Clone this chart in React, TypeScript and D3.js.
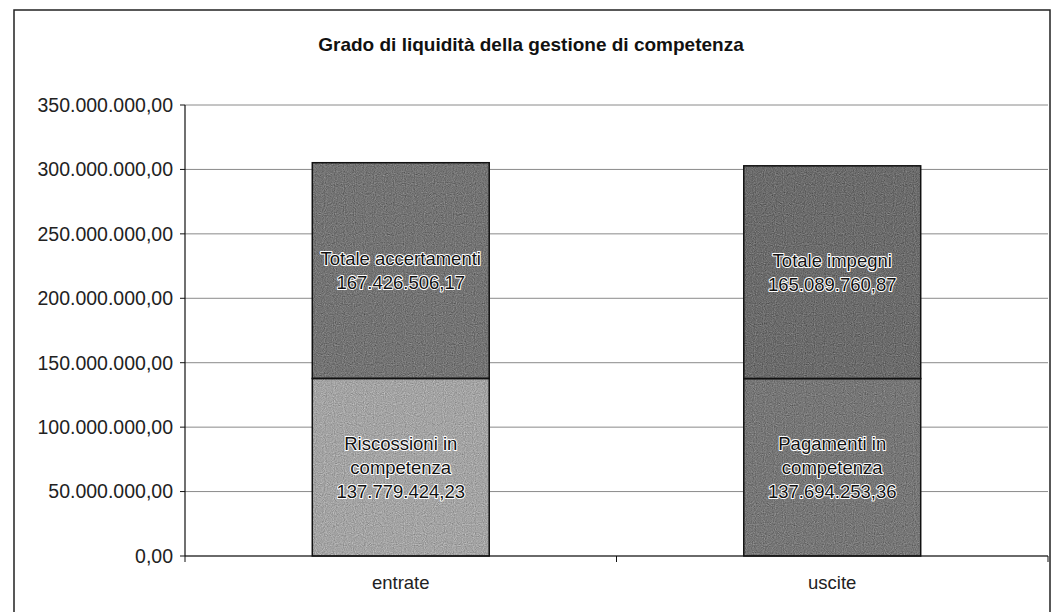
import React from "react";
import * as d3 from "d3";

const categories = ["entrate", "uscite"];
const bottomValues = [137779424.23, 137694253.36];
const topValues = [167426506.17, 165089760.87];
const bottomLabels = [["Riscossioni in", "competenza"], ["Pagamenti in", "competenza"]];
const topLabels = [["Totale accertamenti"], ["Totale impegni"]];
const yTicks = [0, 50000000, 100000000, 150000000, 200000000, 250000000, 300000000, 350000000];
const title = "Grado di liquidità della gestione di competenza";

const bottomFill = ["#a4a4a4", "#777777"];
const topFill = ["#747474", "#6c6c6c"];

const it = d3.formatLocale({ decimal: ",", thousands: ".", grouping: [3], currency: ["€", ""] });
const fmt = it.format(",.2f");

export default function App() {
  const W = 1052, H = 612;
  const left = 185, right = 1048, top = 105, bottom = 556;
  const x = d3.scaleBand().domain(categories).range([left, right]).paddingInner(0.59).paddingOuter(0.295);
  const y = d3.scaleLinear().domain([0, 350000000]).range([bottom, top]);
  const font = "'Liberation Sans', Arial, sans-serif";

  const halo = { paintOrder: "stroke", stroke: "#ffffff", strokeWidth: 2, strokeLinejoin: "round" } as any;

  return (
    <svg width={W} height={H} style={{ position: "absolute", left: 0, top: 0, background: "#fff" }} fontFamily={font}>
      <defs>
        <filter id="grain" x="0" y="0" width="100%" height="100%" colorInterpolationFilters="sRGB">
          <feTurbulence type="fractalNoise" baseFrequency="0.9" numOctaves="1" seed="3" result="noise" />
          <feColorMatrix in="noise" type="matrix" values="0.33 0.33 0.33 0 0  0.33 0.33 0.33 0 0  0.33 0.33 0.33 0 0  0 0 0 0 1" result="g" />
          <feComposite operator="arithmetic" in="SourceGraphic" in2="g" k1="0" k2="1" k3="0.6" k4="-0.3" />
        </filter>
      </defs>
      <rect x={0} y={0} width={W} height={H} fill="#fff" />
      {/* outer frame */}
      <path d={`M14,${H} L14,10 L1050,10 L1050,${H}`} fill="none" stroke="#222" strokeWidth={1.5} />
      <text x={531} y={51} textAnchor="middle" fontSize={19} fontWeight="bold" fill="#111">{title}</text>

      {/* gridlines */}
      {yTicks.map((t) => (
        <line key={"g" + t} x1={left} x2={right} y1={y(t)} y2={y(t)} stroke="#8a8a8a" strokeWidth={1} />
      ))}
      {/* y tick labels */}
      {yTicks.map((t) => (
        <g key={"t" + t}>
          <line x1={left - 5} x2={left} y1={y(t)} y2={y(t)} stroke="#111" />
          <text x={left - 12} y={y(t)} dy="0.35em" textAnchor="end" fontSize={19.5} fill="#222">{fmt(t)}</text>
        </g>
      ))}

      {/* bars */}
      {categories.map((c, i) => {
        const bx = x(c)!;
        const bw = x.bandwidth();
        const y0 = y(0), y1 = y(bottomValues[i]), y2 = y(bottomValues[i] + topValues[i]);
        const cx = bx + bw / 2;
        const midB = (y0 + y1) / 2;
        const midT = (y1 + y2) / 2;
        const bLines = [...bottomLabels[i], fmt(bottomValues[i])];
        const tLines = [...topLabels[i], fmt(topValues[i])];
        return (
          <g key={c}>
            <rect x={bx} y={y1} width={bw} height={y0 - y1} fill={bottomFill[i]} filter="url(#grain)" />
            <rect x={bx} y={y2} width={bw} height={y1 - y2} fill={topFill[i]} filter="url(#grain)" />
            <rect x={bx} y={y1} width={bw} height={y0 - y1} fill="none" stroke="#111" strokeWidth={1.5} />
            <rect x={bx} y={y2} width={bw} height={y1 - y2} fill="none" stroke="#111" strokeWidth={1.5} />
            {tLines.map((s, k) => (
              <text key={"tl" + k} x={cx} y={midT + (k - (tLines.length - 1) / 2) * 24} dy="0.35em" textAnchor="middle" fontSize={18.5} fill="#111" style={halo}>{s}</text>
            ))}
            {bLines.map((s, k) => (
              <text key={"bl" + k} x={cx} y={midB + (k - (bLines.length - 1) / 2) * 24} dy="0.35em" textAnchor="middle" fontSize={18.5} fill="#111" style={halo}>{s}</text>
            ))}
            <text x={cx} y={583} dy="0.35em" textAnchor="middle" fontSize={18.5} fill="#222">{c}</text>
          </g>
        );
      })}

      {/* axes */}
      <line x1={left} x2={left} y1={top} y2={bottom} stroke="#111" strokeWidth={1.2} />
      <line x1={left} x2={right} y1={bottom} y2={bottom} stroke="#111" strokeWidth={1.2} />
      {[left, (left + right) / 2, right].map((v, k) => (
        <line key={"xt" + k} x1={v} x2={v} y1={bottom} y2={bottom + 6} stroke="#111" />
      ))}
    </svg>
  );
}
